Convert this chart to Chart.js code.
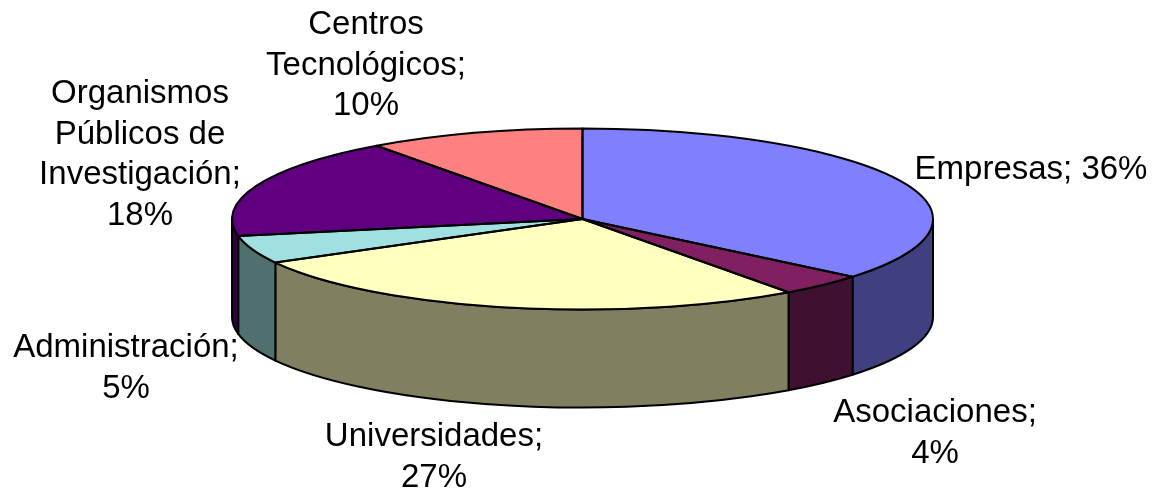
<!DOCTYPE html>
<html>
<head>
<meta charset="utf-8">
<style>
  html, body { margin: 0; padding: 0; background: #fff; }
  canvas { display: block; }
</style>
<script src="https://cdn.jsdelivr.net/npm/chart.js@4"></script>
</head>
<body>
<canvas id="pie" width="1153" height="489"></canvas>
<script>
const categories = ['Empresas', 'Asociaciones', 'Universidades', 'Administración', 'Organismos Públicos de Investigación', 'Centros Tecnológicos'];
const shares = [36, 4, 27, 5, 18, 10];

const TOP_COLORS  = ['#8080ff', '#802060', '#ffffc0', '#a0e0e0', '#600080', '#ff8080'];
const WALL_COLORS = ['#404080', '#401030', '#808060', '#507070', '#300040', '#804040'];

// label lines, wrapped as in the original
const labelLines = [
  ['Empresas; 36%'],
  ['Asociaciones;', '4%'],
  ['Universidades;', '27%'],
  ['Administración;', '5%'],
  ['Organismos', 'Públicos de', 'Investigación;', '18%'],
  ['Centros', 'Tecnológicos;', '10%'],
];
// centre x and first line y of each label
const labelAnchors = [[1031, 170], [935, 413], [434, 437], [126, 348], [140, 94], [366, 25]];

const LINE_HEIGHT = 40.7;
const SQUASH = 90.5 / 350.5;   // tilt of the disc
const DEPTH = 98;              // height of the wall

function tracePie(ctx, arc, a, b, dy) {
  ctx.ellipse(arc.x, arc.y + dy, arc.outerRadius, arc.outerRadius * SQUASH, 0, a, b);
}

const tiltedPie = {
  id: 'tiltedPie',
  beforeDatasetsDraw(chart) {
    const ctx = chart.ctx;
    const arcs = chart.getDatasetMeta(0).data;
    ctx.save();
    ctx.lineWidth = 2;
    ctx.strokeStyle = '#000';
    ctx.lineJoin = 'round';
    // walls: only the part of each slice that faces the viewer
    arcs.forEach((arc, i) => {
      const a = Math.max(arc.startAngle, 0);
      const b = Math.min(arc.endAngle, Math.PI);
      if (b <= a) return;
      ctx.beginPath();
      tracePie(ctx, arc, a, b, 0);
      ctx.ellipse(arc.x, arc.y + DEPTH, arc.outerRadius, arc.outerRadius * SQUASH, 0, b, a, true);
      ctx.closePath();
      ctx.fillStyle = WALL_COLORS[i];
      ctx.fill();
      ctx.stroke();
    });
    ctx.restore();
    // squash the library's own arcs into the disc
    const { x, y } = arcs[0];
    ctx.save();
    ctx.translate(x, y);
    ctx.scale(1, SQUASH);
    ctx.translate(-x, -y);
  },
  afterDatasetsDraw(chart) {
    const ctx = chart.ctx;
    ctx.restore();
    ctx.save();
    ctx.lineWidth = 2;
    ctx.strokeStyle = '#000';
    ctx.lineJoin = 'round';
    chart.getDatasetMeta(0).data.forEach(arc => {
      ctx.beginPath();
      ctx.moveTo(arc.x, arc.y);
      tracePie(ctx, arc, arc.startAngle, arc.endAngle, 0);
      ctx.closePath();
      ctx.stroke();
    });
    ctx.font = '33px "Liberation Sans", Arial, sans-serif';
    ctx.fillStyle = '#000';
    ctx.textAlign = 'center';
    ctx.textBaseline = 'middle';
    labelLines.forEach((lines, i) => {
      lines.forEach((line, j) => {
        ctx.fillText(line, labelAnchors[i][0], labelAnchors[i][1] + j * LINE_HEIGHT);
      });
    });
    ctx.restore();
  },
};

new Chart(document.getElementById('pie'), {
  type: 'pie',
  data: {
    labels: categories,
    datasets: [{
      data: shares,
      backgroundColor: TOP_COLORS,
      borderWidth: 0,
      clip: false,
    }],
  },
  options: {
    responsive: false,
    animation: false,
    radius: 350.5,
    layout: { padding: { left: 12, bottom: 51 } },
    plugins: { legend: { display: false }, tooltip: { enabled: false } },
  },
  plugins: [tiltedPie],
});
</script>
</body>
</html>
